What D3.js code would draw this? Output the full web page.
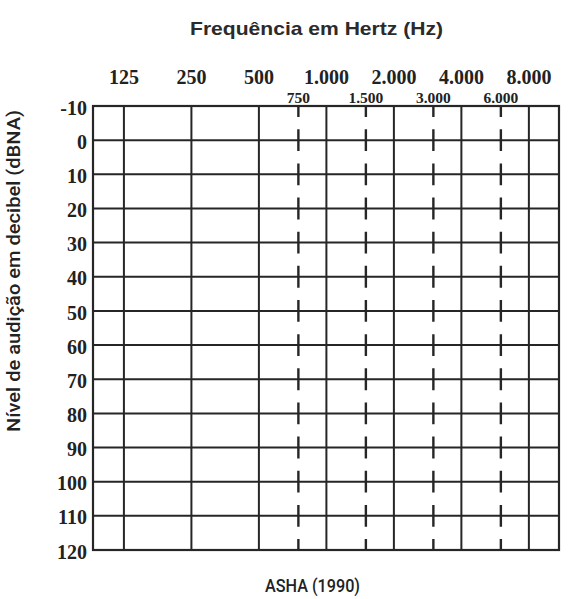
<!DOCTYPE html>
<html>
<head>
<meta charset="utf-8">
<script src="https://cdn.jsdelivr.net/npm/d3@7"></script>
<style>
  html, body { margin: 0; padding: 0; background: #fff; }
  svg { display: block; }
</style>
</head>
<body>
<div id="chart"></div>
<script>
// ---- data ----
const octaveFreqs   = [125, 250, 500, 1000, 2000, 4000, 8000];
const octaveLabels  = ["125", "250", "500", "1.000", "2.000", "4.000", "8.000"];
const halfFreqs     = [750, 1500, 3000, 6000];
const halfLabels    = ["750", "1.500", "3.000", "6.000"];
const dbTicks       = [-10, 0, 10, 20, 30, 40, 50, 60, 70, 80, 90, 100, 110, 120];
const freqDomain    = [91, 10900];   // frame edges in Hz
const dbDomain      = [-10, 120];
const titleText     = "Frequência em Hertz (Hz)";
const yTitleText    = "Nível de audição em decibel (dBNA)";
const sourceText    = "ASHA (1990)";

// ---- layout ----
const W = 586, H = 599;
const svg = d3.select("#chart").append("svg").attr("width", W).attr("height", H);

const x = d3.scaleLog().domain(freqDomain).range([93, 559]);
const y = d3.scaleLinear().domain(dbDomain).range([106, 550]);
const step = y(0) - y(-10);

const lineColor = "#262626";
const serif = "'Liberation Serif', 'Times New Roman', serif";
const sans = "'Liberation Sans', Arial, sans-serif";

const g = svg.append("g");

// horizontal grid lines
g.selectAll("line.h").data(dbTicks.slice(1, -1)).enter().append("line")
  .attr("class", "h")
  .attr("x1", x(freqDomain[0])).attr("x2", x(freqDomain[1]))
  .attr("y1", d => y(d)).attr("y2", d => y(d))
  .attr("stroke", lineColor).attr("stroke-width", 2);

// vertical solid lines (octaves)
g.selectAll("line.v").data(octaveFreqs).enter().append("line")
  .attr("class", "v")
  .attr("x1", d => x(d)).attr("x2", d => x(d))
  .attr("y1", y(dbDomain[0])).attr("y2", y(dbDomain[1]))
  .attr("stroke", lineColor).attr("stroke-width", 2);

// vertical dashed lines (half octaves)
const dashLen = step * 0.64;
g.selectAll("line.d").data(halfFreqs).enter().append("line")
  .attr("class", "d")
  .attr("x1", d => x(d)).attr("x2", d => x(d))
  .attr("y1", y(dbDomain[0])).attr("y2", y(dbDomain[1]))
  .attr("stroke", lineColor).attr("stroke-width", 2.4)
  .attr("stroke-dasharray", `${dashLen} ${step - dashLen}`)
  .attr("stroke-dashoffset", dashLen / 2);

// frame
g.append("rect")
  .attr("x", x(freqDomain[0])).attr("y", y(dbDomain[0]))
  .attr("width", x(freqDomain[1]) - x(freqDomain[0]))
  .attr("height", y(dbDomain[1]) - y(dbDomain[0]))
  .attr("fill", "none").attr("stroke", lineColor).attr("stroke-width", 2.2);

// octave labels
svg.selectAll("text.oct").data(octaveFreqs).enter().append("text")
  .attr("class", "oct")
  .attr("x", d => x(d)).attr("y", 84)
  .attr("text-anchor", "middle")
  .attr("font-family", serif).attr("font-weight", "bold").attr("font-size", 20)
  .attr("fill", "#222")
  .text((d, i) => octaveLabels[i]);

// half-octave labels
svg.selectAll("text.half").data(halfFreqs).enter().append("text")
  .attr("class", "half")
  .attr("x", d => x(d)).attr("y", 103)
  .attr("text-anchor", "middle")
  .attr("font-family", serif).attr("font-weight", "bold").attr("font-size", 15.5)
  .attr("fill", "#222")
  .text((d, i) => halfLabels[i]);

// dB labels
svg.selectAll("text.db").data(dbTicks).enter().append("text")
  .attr("class", "db")
  .attr("x", 87).attr("y", d => y(d) + 4)
  .attr("text-anchor", "end")
  .attr("dominant-baseline", "middle")
  .attr("font-family", serif).attr("font-weight", "bold").attr("font-size", 20)
  .attr("fill", "#222")
  .text(d => d);

// title
svg.append("text")
  .attr("x", 316.5).attr("y", 35)
  .attr("text-anchor", "middle")
  .attr("font-family", sans).attr("font-weight", "bold").attr("font-size", 18.5)
  .attr("fill", "#2b2b2b")
  .attr("textLength", 253).attr("lengthAdjust", "spacingAndGlyphs")
  .text(titleText);

// y axis title
svg.append("text")
  .attr("transform", "translate(20,271) rotate(-90)")
  .attr("text-anchor", "middle")
  .attr("font-family", "Roboto, 'Liberation Sans', sans-serif")
  .attr("font-weight", 500).attr("font-size", 18.5)
  .attr("fill", "#222")
  .attr("textLength", 322).attr("lengthAdjust", "spacingAndGlyphs")
  .text(yTitleText);

// source
svg.append("text")
  .attr("x", 312.5).attr("y", 592)
  .attr("text-anchor", "middle")
  .attr("font-family", "Roboto, 'Liberation Sans', sans-serif")
  .attr("font-weight", 500).attr("font-size", 18.5)
  .attr("fill", "#222")
  .attr("textLength", 95).attr("lengthAdjust", "spacingAndGlyphs")
  .text(sourceText);
</script>
</body>
</html>
